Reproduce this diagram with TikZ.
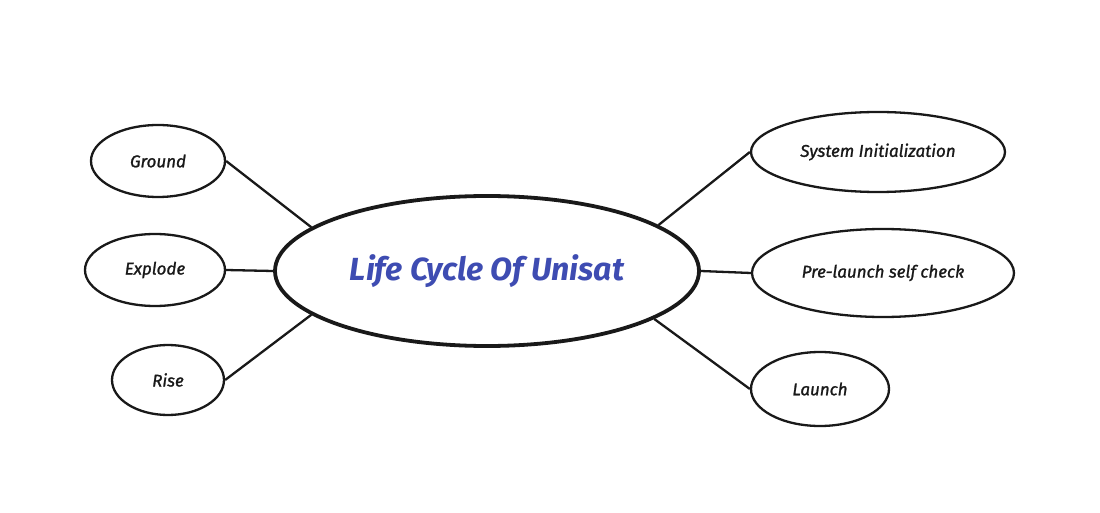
\documentclass[tikz,border=0pt]{standalone}
\usepackage{fontspec}
\setmainfont{Fira Sans}
\newfontfamily\labelfont[FakeBold=1.3]{Fira Sans}
\usetikzlibrary{shapes.geometric}
\definecolor{titleblue}{RGB}{62,76,178}
\definecolor{inkline}{RGB}{25,25,25}
\tikzset{
  leaf/.style={ellipse, draw=inkline, line width=2.3pt, inner sep=0pt, fill=white,
    font=\labelfont\fontsize{17}{19}\selectfont\itshape, text=inkline},
  hub/.style={ellipse, draw=inkline, line width=3.8pt, inner sep=0pt, fill=white,
    font=\fontsize{32}{36}\selectfont\bfseries\itshape, text=titleblue},
  link/.style={draw=inkline, line width=2.3pt}
}
\begin{document}
\begin{tikzpicture}[x=1pt, y=-1pt]
  \useasboundingbox[fill=white] (0,0) rectangle (1100,513);

  % central topic
  \node[hub, minimum width=424pt, minimum height=150pt] (life) at (487,271) {Life Cycle Of Unisat};

  % outcomes on the left
  \node[leaf, minimum width=134pt, minimum height=72pt] (ground)  at (158,161) {Ground};
  \node[leaf, minimum width=140pt, minimum height=72pt] (explode) at (155,270) {Explode};
  \node[leaf, minimum width=112pt, minimum height=70pt] (rise)    at (168,380) {Rise};

  % stages on the right
  \node[leaf, minimum width=254pt, minimum height=80pt] (sysinit) at (878,152) {System Initialization};
  \node[leaf, minimum width=262pt, minimum height=88pt] (prelaunch) at (883,273) {Pre-launch self check};
  \node[leaf, minimum width=138pt, minimum height=74pt] (launch)  at (820,389) {Launch};

  % connectors
  \draw[link] (ground.east)  -- (life.166);
  \draw[link] (explode.east) -- (life.west);
  \draw[link] (rise.east)    -- (life.194);
  \draw[link] (sysinit.west) -- (life.15.6);
  \draw[link] (prelaunch.west) -- (life.east);
  \draw[link] (launch.west)  -- (life.344);
\end{tikzpicture}
\end{document}
